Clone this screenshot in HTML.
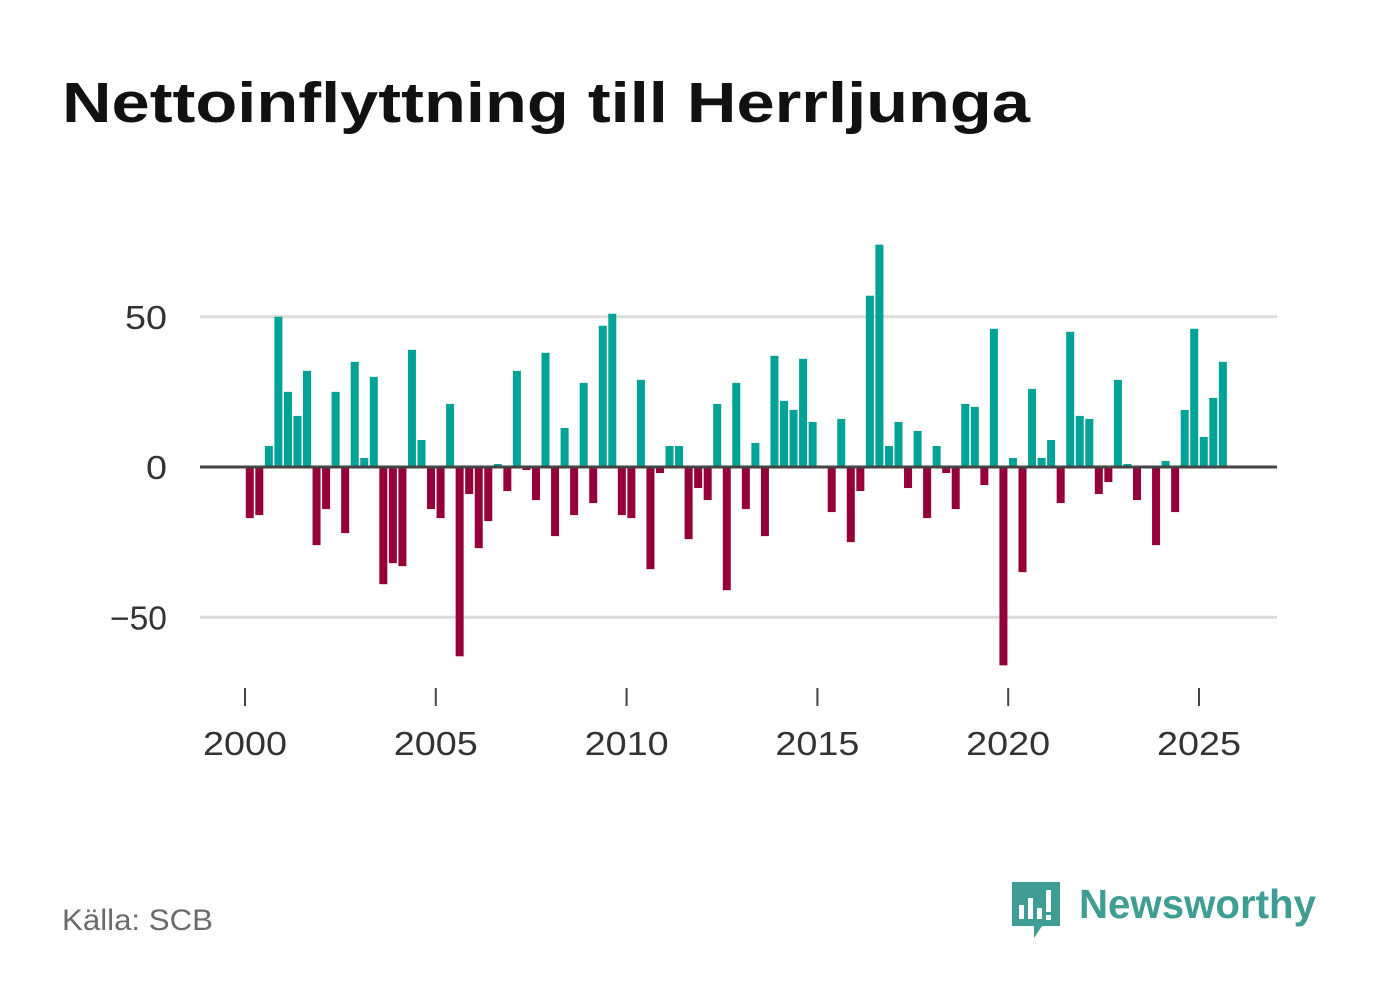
<!DOCTYPE html>
<html><head><meta charset="utf-8"><style>
body{margin:0;background:#fff;font-family:"Liberation Sans","DejaVu Sans",sans-serif;}
#w{position:relative;width:1382px;height:999px;overflow:hidden;}
</style></head><body>
<div id="w">
<svg width="1382" height="999" id="svg">
<text x="62" y="122" font-size="57" font-weight="bold" fill="#111" textLength="968" lengthAdjust="spacingAndGlyphs">Nettoinflyttning till Herrljunga</text>
<g id="grid"></g><g id="bars"></g><g id="axes"></g>
<text x="62" y="930" font-size="30" fill="#6b6b6b" textLength="151" lengthAdjust="spacingAndGlyphs">Källa: SCB</text>
<g>
<path d="M1012 882 h48 v44 h-18 l-8 12 v-12 h-22 z" fill="#3f9d93"/>
<rect x="1019" y="905" width="5" height="14" fill="#fff"/><rect x="1028" y="898" width="5" height="21" fill="#fff"/><rect x="1037" y="908" width="5" height="11" fill="#fff"/><rect x="1046" y="890" width="5" height="22" fill="#fff"/><rect x="1046" y="915" width="5" height="5" fill="#fff"/>
<text x="1079" y="918" font-size="41" font-weight="bold" fill="#3f9d93" textLength="237" lengthAdjust="spacingAndGlyphs">Newsworthy</text>
</g>
</svg>
<script>
const quarters = 103;
const startYear = 2000;
const values = [-17,-16,7,50,25,17,32,-26,-14,25,-22,35,3,30,-39,-32,-33,39,9,-14,-17,21,-63,-9,-27,-18,1,-8,32,-1,-11,38,-23,13,-16,28,-12,47,51,-16,-17,29,-34,-2,7,7,-24,-7,-11,21,-41,28,-14,8,-23,37,22,19,36,15,0,-15,16,-25,-8,57,74,7,15,-7,12,-17,7,-2,-14,21,20,-6,46,-66,3,-35,26,3,9,-12,45,17,16,-9,-5,29,1,-11,0,-26,2,-15,19,46,10,23,35];
const yTicks = [50,0,-50];
const yTickLabels = ["50","0","\u221250"];
const xTicks = [2000,2005,2010,2015,2020,2025];
const NS="http://www.w3.org/2000/svg";
const x = t => 245 + (t-2000)*38.16;
const y = v => 467 - v*3.005;
function mk(tag,attrs,parent){const e=document.createElementNS(NS,tag);for(const k in attrs)e.setAttribute(k,attrs[k]);parent.appendChild(e);return e;}
const grid=document.getElementById('grid'),bars=document.getElementById('bars'),axes=document.getElementById('axes');
yTicks.forEach((v,i)=>{
  if(v!==0){const l=mk('line',{x1:200,x2:1277,y1:y(v),y2:y(v),stroke:'#dcdcdc','stroke-width':3},grid);
  
  }
  const lab=yTickLabels[i];
  const t=mk('text',{x:167,y:y(v)+12,'font-size':33,fill:'#333','text-anchor':'end',textLength:lab.length*21+(lab.length>2?-6:0),lengthAdjust:'spacingAndGlyphs'},axes);
  t.textContent=lab;
  
  
});
values.forEach((v,i)=>{
  const cx=x(startYear+(i+0.5)/4);
  const r=mk('rect',{x:cx-4,y:Math.min(y(v),y(0)),width:8,height:Math.abs(y(v)-y(0)),fill:v>=0?'#00a396':'#950039'},bars);
  
  
});
const z=mk('line',{x1:200,x2:1277,y1:y(0),y2:y(0),stroke:'#444','stroke-width':3},axes);


xTicks.forEach(yr=>{
  const tk=mk('line',{x1:x(yr),x2:x(yr),y1:688,y2:706,stroke:'#444','stroke-width':2},axes);
  
  
  const t=mk('text',{x:x(yr),y:755,'font-size':33,fill:'#333','text-anchor':'middle',textLength:84,lengthAdjust:'spacingAndGlyphs'},axes);
  t.textContent=yr;
  
  
});
</script>
</div>
</body></html>
